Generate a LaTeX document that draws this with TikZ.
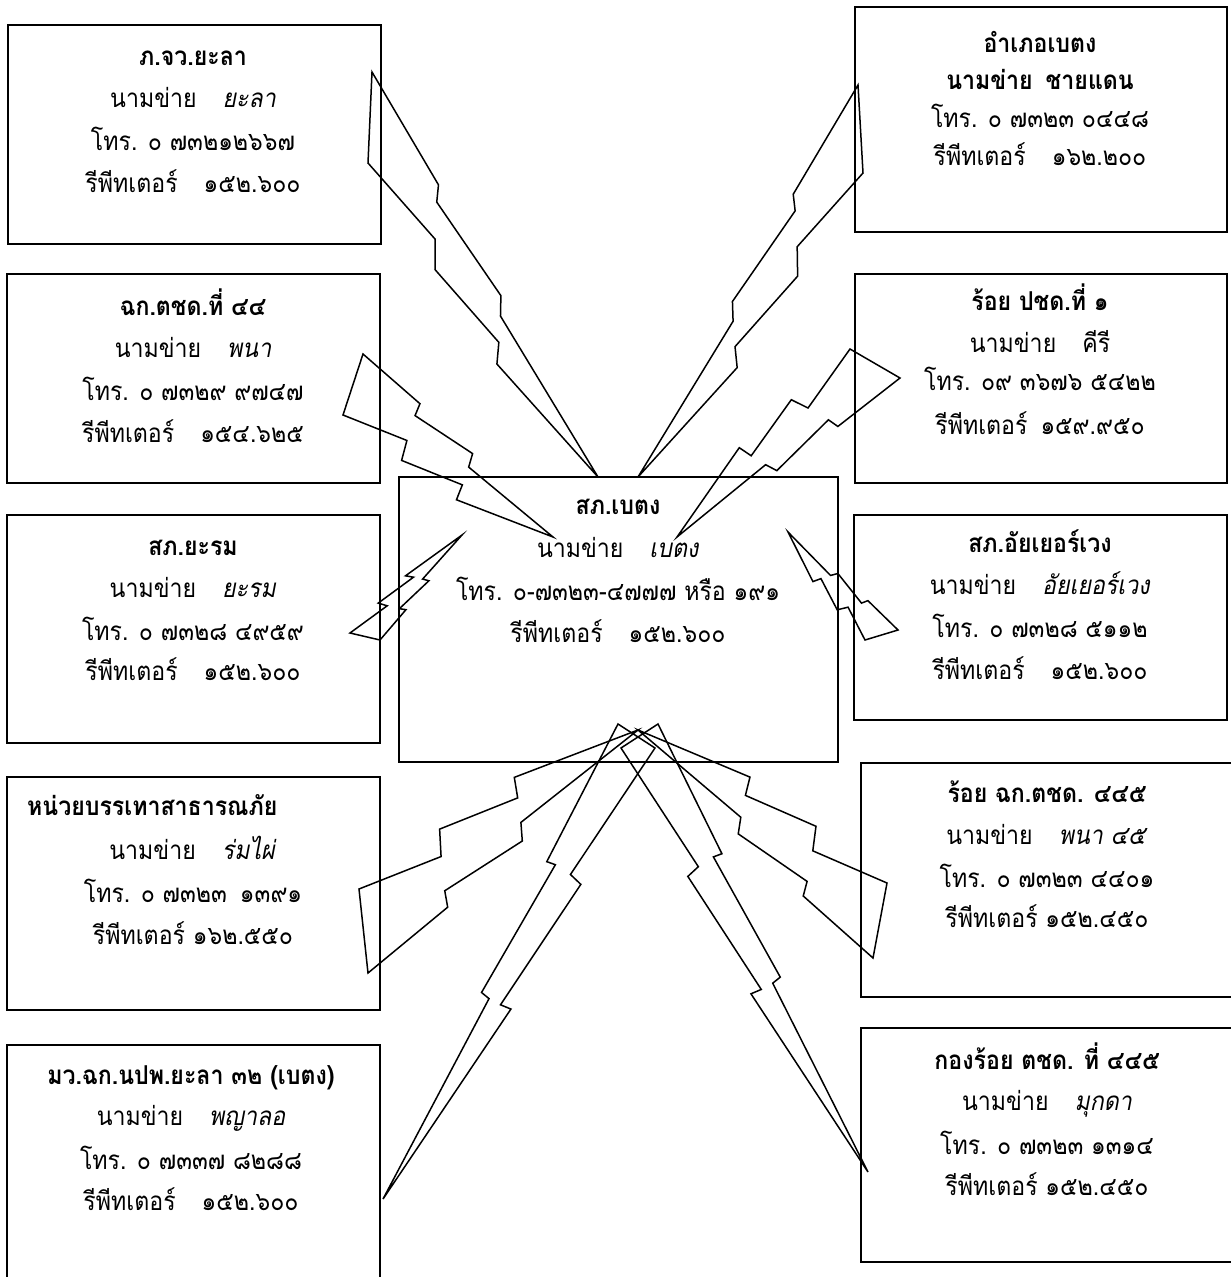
\documentclass[tikz,border=0pt]{standalone}
\usepackage{fontspec}
\setmainfont[Script=Thai,FakeStretch=0.89]{Loma}
\usepackage{tikz}
\usetikzlibrary{positioning}
\usetikzlibrary{calc}
\newcommand{\txtsize}{\fontsize{26}{34}\selectfont}
\tikzset{
    panel/.style = {rectangle,draw,line width=1.6pt,inner sep=0pt},
    headtxt/.style = {font=\txtsize\bfseries,anchor=mid,inner sep=0pt},
    bodytxt/.style = {font=\txtsize,anchor=mid,inner sep=0pt},
    boltpath/.style = {draw,line width=1.5pt,line join=miter}}
% lightning bolt: #1,#2 = wide end, #3 = tip
\newcommand{\bolt}[3]{%
    \coordinate (bm) at ($(#1)!0.5!(#2)$);
    \coordinate (bu) at ($(#3)-(bm)$);
    \coordinate (bv) at ($(#2)-(bm)$);
    \path[boltpath] (#1) -- (#2) -- ($(bm)+0.293*(bu)+0.835*(bv)$)
        -- ($(bm)+0.289*(bu)+0.425*(bv)$) -- ($(bm)+0.569*(bu)+0.580*(bv)$)
        -- ($(bm)+0.571*(bu)+0.147*(bv)$) -- (#3)
        -- ($(bm)+0.565*(bu)-0.954*(bv)$) -- ($(bm)+0.569*(bu)-0.446*(bv)$)
        -- ($(bm)+0.294*(bu)-1.019*(bv)$) -- ($(bm)+0.289*(bu)-0.390*(bv)$)
        -- cycle;}
\begin{document}
\begin{tikzpicture}[x=1pt,y=-1pt]
    \clip (0,0) rectangle (1231,1277);
    % boxes
    \node[panel,minimum width=373pt,minimum height=219pt] (yala) at (194.5,134.5) {};
    \node[panel,minimum width=373pt,minimum height=209pt] (pana) at (193.5,378.5) {};
    \node[panel,minimum width=373pt,minimum height=228pt] (yarom) at (193.5,629) {};
    \node[panel,minimum width=373pt,minimum height=233pt] (rompai) at (193.5,893.5) {};
    \node[panel,minimum width=373pt,minimum height=255pt] (phaya) at (193.5,1172.5) {};
    \node[panel,minimum width=372pt,minimum height=225pt] (chaidaen) at (1041,119.5) {};
    \node[panel,minimum width=372pt,minimum height=209pt] (khiri) at (1041,378.5) {};
    \node[panel,minimum width=373pt,minimum height=205pt] (aiyoe) at (1040.5,617.5) {};
    \node[panel,minimum width=379pt,minimum height=234pt] (pana45) at (1050.5,880) {};
    \node[panel,minimum width=379pt,minimum height=234pt] (mukda) at (1050.5,1145) {};
    \node[panel,minimum width=439pt,minimum height=285pt] (betong) at (618.5,619.5) {};
    % texts
    \path (193,63) node[headtxt] (yalaT) {ภ.จว.ยะลา}
        + (0,42) node[bodytxt] (yalaN) {นามข่าย\quad\textit{ยะลา}}
        + (0,85) node[bodytxt] (yalaP) {โทร. ๐ ๗๓๒๑๒๖๖๗}
        + (0,127) node[bodytxt] (yalaR) {รีพีทเตอร์\quad ๑๕๒.๖๐๐};
    \path (193,313) node[headtxt] (panaT) {ฉก.ตชด.ที่ ๔๔}
        + (0,42) node[bodytxt] (panaN) {นามข่าย\quad\textit{พนา}}
        + (0,85) node[bodytxt] (panaP) {โทร. ๐ ๗๓๒๙ ๙๗๔๗}
        + (0,127) node[bodytxt] (panaR) {รีพีทเตอร์\quad ๑๕๔.๖๒๕};
    \path (193,553) node[headtxt] (yaromT) {สภ.ยะรม}
        + (0,42) node[bodytxt] (yaromN) {นามข่าย\quad\textit{ยะรม}}
        + (0,85) node[bodytxt] (yaromP) {โทร. ๐ ๗๓๒๘ ๔๙๕๙}
        + (0,125) node[bodytxt] (yaromR) {รีพีทเตอร์\quad ๑๕๒.๖๐๐};
    \path (27,813) node[headtxt,anchor=mid west] (rompaiT) {หน่วยบรรเทาสาธารณภัย}
        (193,857) node[bodytxt] (rompaiN) {นามข่าย\quad\textit{ร่มไผ่}}
        + (0,43) node[bodytxt] (rompaiP) {โทร. ๐ ๗๓๒๓\enspace ๑๓๙๑}
        + (0,85) node[bodytxt] (rompaiR) {รีพีทเตอร์ ๑๖๒.๕๕๐};
    \path (191,1082) node[headtxt] (phayaT) {มว.ฉก.นปพ.ยะลา ๓๒ (เบตง)}
        + (0,41) node[bodytxt] (phayaN) {นามข่าย\quad\textit{พญาลอ}}
        + (0,85) node[bodytxt] (phayaP) {โทร. ๐ ๗๓๓๗ ๘๒๘๘}
        + (0,126) node[bodytxt] (phayaR) {รีพีทเตอร์\quad ๑๕๒.๖๐๐};
    \path (1040,50) node[headtxt] (chaidaenT) {อำเภอเบตง}
        + (0,37) node[headtxt] (chaidaenN) {นามข่าย\enspace ชายแดน}
        + (0,75) node[bodytxt] (chaidaenP) {โทร. ๐ ๗๓๒๓ ๐๔๔๘}
        + (0,113) node[bodytxt] (chaidaenR) {รีพีทเตอร์\quad ๑๖๒.๒๐๐};
    \path (1040,308) node[headtxt] (khiriT) {ร้อย ปชด.ที่ ๑}
        + (0,42) node[bodytxt] (khiriN) {นามข่าย\quad คีรี}
        + (0,80) node[bodytxt] (khiriP) {โทร. ๐๙ ๓๖๗๖ ๕๔๒๒}
        + (0,124) node[bodytxt] (khiriR) {รีพีทเตอร์\enspace ๑๕๙.๙๕๐};
    \path (1040,550) node[headtxt] (aiyoeT) {สภ.อัยเยอร์เวง}
        + (0,42) node[bodytxt] (aiyoeN) {นามข่าย\quad\textit{อัยเยอร์เวง}}
        + (0,85) node[bodytxt] (aiyoeP) {โทร. ๐ ๗๓๒๘ ๕๑๑๒}
        + (0,127) node[bodytxt] (aiyoeR) {รีพีทเตอร์\quad ๑๕๒.๖๐๐};
    \path (1047,800) node[headtxt] (pana45T) {ร้อย ฉก.ตชด. ๔๔๕}
        + (0,42) node[bodytxt] (pana45N) {นามข่าย\quad\textit{พนา ๔๕}}
        + (0,85) node[bodytxt] (pana45P) {โทร. ๐ ๗๓๒๓ ๔๔๐๑}
        + (0,125) node[bodytxt] (pana45R) {รีพีทเตอร์ ๑๕๒.๔๕๐};
    \path (1047,1067) node[headtxt] (mukdaT) {กองร้อย ตชด. ที่ ๔๔๕}
        + (0,41) node[bodytxt] (mukdaN) {นามข่าย\quad\textit{มุกดา}}
        + (0,85) node[bodytxt] (mukdaP) {โทร. ๐ ๗๓๒๓ ๑๓๑๔}
        + (0,126) node[bodytxt] (mukdaR) {รีพีทเตอร์ ๑๕๒.๔๕๐};
    \path (618,512) node[headtxt] (betongT) {สภ.เบตง}
        + (0,43) node[bodytxt] (betongN) {นามข่าย\quad\textit{เบตง}}
        + (0,86) node[bodytxt] (betongP) {โทร. ๐-๗๓๒๓-๔๗๗๗ หรือ ๑๙๑}
        + (0,128) node[bodytxt] (betongR) {รีพีทเตอร์\quad ๑๕๒.๖๐๐};
    % bolt ends
    \coordinate (b1a) at (368,163); \coordinate (b1b) at (372,72); \coordinate (b1t) at (598,477);
    \coordinate (b2a) at (863,173); \coordinate (b2b) at (858,85); \coordinate (b2t) at (638,477);
    \coordinate (b3a) at (343,415); \coordinate (b3b) at (363,354); \coordinate (b3t) at (553,537);
    \coordinate (b4a) at (850,349); \coordinate (b4b) at (900,378); \coordinate (b4t) at (677,537);
    \coordinate (b5a) at (350,633); \coordinate (b5b) at (380,640); \coordinate (b5t) at (462,535);
    \coordinate (b6a) at (865,640); \coordinate (b6b) at (898,630); \coordinate (b6t) at (788,532);
    \coordinate (b7a) at (359,889); \coordinate (b7b) at (368,973); \coordinate (b7t) at (638,730);
    \coordinate (b8a) at (887,883); \coordinate (b8b) at (873,958); \coordinate (b8t) at (638,730);
    \coordinate (b9a) at (655,748); \coordinate (b9b) at (618,724); \coordinate (b9t) at (383,1199);
    \coordinate (b10a) at (621,748); \coordinate (b10b) at (658,724); \coordinate (b10t) at (868,1172);
    % bolts
    \bolt{b1a}{b1b}{b1t}
    \bolt{b2a}{b2b}{b2t}
    \bolt{b3a}{b3b}{b3t}
    \bolt{b4a}{b4b}{b4t}
    \bolt{b5a}{b5b}{b5t}
    \bolt{b6a}{b6b}{b6t}
    \bolt{b7a}{b7b}{b7t}
    \bolt{b8a}{b8b}{b8t}
    \bolt{b9a}{b9b}{b9t}
    \bolt{b10a}{b10b}{b10t}
\end{tikzpicture}
\end{document}
